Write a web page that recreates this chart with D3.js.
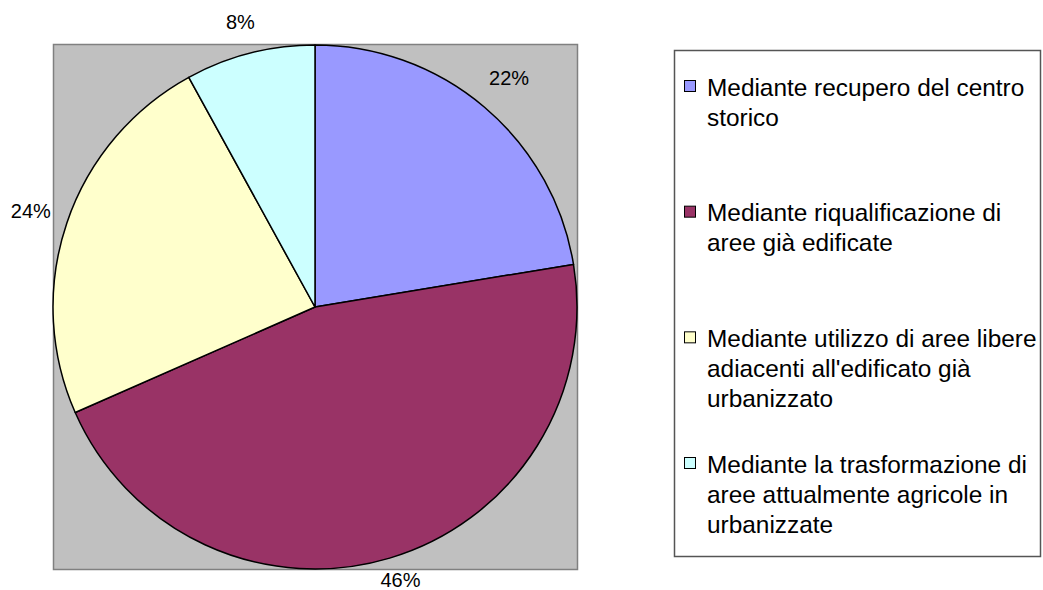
<!DOCTYPE html>
<html>
<head>
<meta charset="utf-8">
<script src="https://cdn.jsdelivr.net/npm/d3@7"></script>
<style>
  html, body { margin: 0; padding: 0; background: #ffffff; }
  svg { display: block; font-family: "Liberation Sans", Arial, sans-serif; }
</style>
</head>
<body>
<svg id="chart" width="1043" height="590"></svg>
<script>
// ---- data ----
const categories = [
  "Mediante recupero del centro storico",
  "Mediante riqualificazione di aree già edificate",
  "Mediante utilizzo di aree libere adiacenti all'edificato già urbanizzato",
  "Mediante la trasformazione di aree attualmente agricole in urbanizzate"
];
const legendLines = [
  ["Mediante recupero del centro", "storico"],
  ["Mediante riqualificazione di", "aree già edificate"],
  ["Mediante utilizzo di aree libere", "adiacenti all'edificato già", "urbanizzato"],
  ["Mediante la trasformazione di", "aree attualmente agricole in", "urbanizzate"]
];
const values = [22.4, 46.0, 23.6, 8.0];
const colors = ["#9999FF", "#993366", "#FFFFCC", "#CCFFFF"];

// ---- layout ----
const W = 1043, H = 590;
const svg = d3.select("#chart");
const plot = { x: 53, y: 44, w: 524, h: 525 };
const cx = 315, cy = 307, R = 262;

svg.append("rect")
  .attr("x", plot.x + 0.5).attr("y", plot.y + 0.5)
  .attr("width", plot.w).attr("height", plot.h)
  .attr("fill", "#C0C0C0").attr("stroke", "#808080").attr("stroke-width", 1.5);

const data = categories.map((c, i) => ({ name: c, value: values[i], color: colors[i] }));
const pie = d3.pie().value(d => d.value).sort(null);
const arcs = pie(data);
const arc = d3.arc().innerRadius(0).outerRadius(R);
const labelArc = d3.arc().innerRadius(300).outerRadius(300);

const g = svg.append("g").attr("transform", `translate(${cx},${cy})`);
g.selectAll("path").data(arcs).join("path")
  .attr("d", arc)
  .attr("fill", d => d.data.color)
  .attr("stroke", "#000").attr("stroke-width", 1.5).attr("stroke-linejoin", "round");

const total = d3.sum(values);
g.selectAll("text.pct").data(arcs).join("text")
  .attr("class", "pct")
  .each(function(d) {
    const [x, y] = labelArc.centroid(d);
    const yy = Math.max(22 - cy, Math.min(H - 10 - cy, y));
    d3.select(this).attr("x", x).attr("y", yy);
  })
  .attr("text-anchor", "middle").attr("dy", "0.35em")
  .attr("font-size", 20).attr("fill", "#000")
  .text(d => Math.round(d.data.value / total * 100) + "%");

// ---- legend ----
const leg = { x: 674, y: 50, w: 366, h: 506 };
svg.append("rect")
  .attr("x", leg.x + 0.5).attr("y", leg.y + 0.5)
  .attr("width", leg.w).attr("height", leg.h)
  .attr("fill", "#fff").attr("stroke", "#555").attr("stroke-width", 1.5);

const itemY = d3.scaleLinear().domain([0, 3]).range([87, 464]);
const lineH = 30;
const items = svg.append("g").selectAll("g").data(data).join("g")
  .attr("transform", (d, i) => `translate(${leg.x + 10},${itemY(i)})`);
items.append("rect")
  .attr("x", 0.5).attr("y", -6.5).attr("width", 11).attr("height", 11)
  .attr("fill", d => d.color).attr("stroke", "#000").attr("stroke-width", 1);
items.append("text")
  .attr("x", 23).attr("y", 0)
  .attr("font-size", 24.4).attr("fill", "#000")
  .selectAll("tspan").data((d, i) => legendLines[i]).join("tspan")
  .attr("x", 23).attr("y", (t, j) => j * lineH).attr("dy", "0.35em")
  .text(t => t);
</script>
</body>
</html>
